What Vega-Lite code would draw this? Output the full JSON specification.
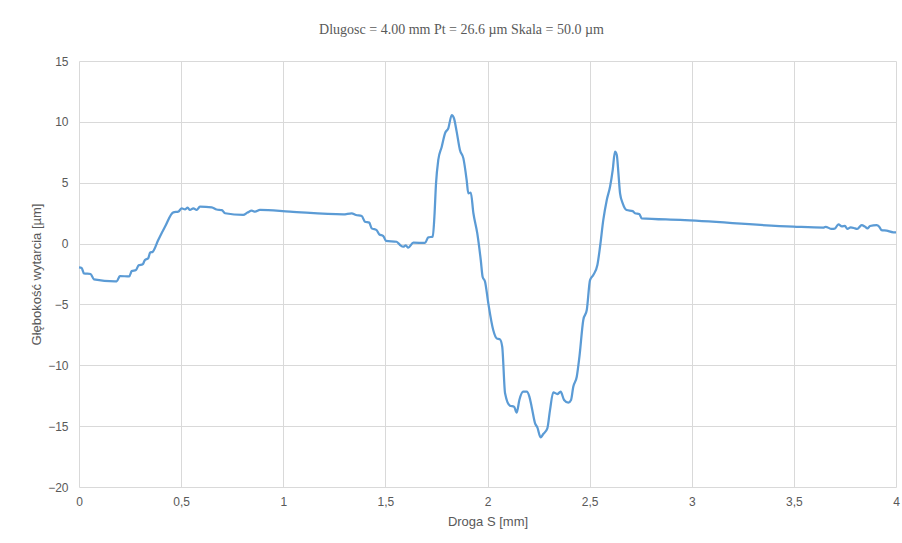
{
  "$schema": "https://vega.github.io/schema/vega-lite/v6.json",
  "width": 817,
  "height": 426,
  "autosize": {"type": "none"},
  "padding": {"left": 79, "top": 61, "right": 6, "bottom": 56},
  "background": "white",
  "title": {
    "text": "Dlugosc = 4.00 mm Pt = 26.6 µm Skala = 50.0 µm",
    "font": "Liberation Serif",
    "fontSize": 14,
    "fontWeight": "normal",
    "color": "#595959",
    "anchor": "middle",
    "dx": -26,
    "offset": 18
  },
  "config": {
    "view": {"stroke": null},
    "axis": {
      "labelFont": "Liberation Sans",
      "titleFont": "Liberation Sans",
      "labelFontSize": 12,
      "titleFontSize": 13,
      "titleFontWeight": "normal",
      "labelColor": "#595959",
      "titleColor": "#595959",
      "gridColor": "#d9d9d9",
      "gridWidth": 1,
      "domain": false,
      "ticks": false
    }
  },
  "data": {"values": [
    {"x": 0.0, "y": -1.95}, {"x": 0.013, "y": -2.0}, {"x": 0.024, "y": -2.45}, {"x": 0.057, "y": -2.5},
    {"x": 0.073, "y": -2.94}, {"x": 0.176, "y": -3.1}, {"x": 0.185, "y": -3.1}, {"x": 0.2, "y": -2.67},
    {"x": 0.246, "y": -2.7}, {"x": 0.258, "y": -2.26}, {"x": 0.279, "y": -2.17}, {"x": 0.292, "y": -1.79},
    {"x": 0.312, "y": -1.7}, {"x": 0.323, "y": -1.35}, {"x": 0.339, "y": -1.2}, {"x": 0.348, "y": -0.75},
    {"x": 0.361, "y": -0.67}, {"x": 0.388, "y": 0.29}, {"x": 0.421, "y": 1.38}, {"x": 0.462, "y": 2.57},
    {"x": 0.486, "y": 2.62}, {"x": 0.503, "y": 2.9}, {"x": 0.519, "y": 2.8}, {"x": 0.532, "y": 2.95},
    {"x": 0.543, "y": 2.76}, {"x": 0.56, "y": 2.9}, {"x": 0.576, "y": 2.76}, {"x": 0.592, "y": 3.03},
    {"x": 0.65, "y": 2.98}, {"x": 0.674, "y": 2.8}, {"x": 0.699, "y": 2.75}, {"x": 0.715, "y": 2.49},
    {"x": 0.804, "y": 2.35}, {"x": 0.825, "y": 2.55}, {"x": 0.846, "y": 2.7}, {"x": 0.862, "y": 2.62},
    {"x": 0.886, "y": 2.76}, {"x": 1.033, "y": 2.62}, {"x": 1.294, "y": 2.4}, {"x": 1.335, "y": 2.49},
    {"x": 1.356, "y": 2.35}, {"x": 1.384, "y": 2.26}, {"x": 1.4, "y": 1.8}, {"x": 1.421, "y": 1.72},
    {"x": 1.433, "y": 1.25}, {"x": 1.457, "y": 1.11}, {"x": 1.47, "y": 0.76}, {"x": 1.49, "y": 0.62},
    {"x": 1.503, "y": 0.23}, {"x": 1.555, "y": 0.15}, {"x": 1.572, "y": -0.12}, {"x": 1.588, "y": -0.26},
    {"x": 1.6, "y": -0.15}, {"x": 1.612, "y": -0.34}, {"x": 1.637, "y": 0.07}, {"x": 1.694, "y": 0.05},
    {"x": 1.71, "y": 0.51}, {"x": 1.732, "y": 0.57}, {"x": 1.74, "y": 2.2}, {"x": 1.748, "y": 4.95},
    {"x": 1.759, "y": 6.87}, {"x": 1.776, "y": 7.96}, {"x": 1.792, "y": 9.06}, {"x": 1.808, "y": 9.47},
    {"x": 1.825, "y": 10.56}, {"x": 1.836, "y": 10.29}, {"x": 1.849, "y": 9.2}, {"x": 1.865, "y": 7.69},
    {"x": 1.882, "y": 7.0}, {"x": 1.898, "y": 5.22}, {"x": 1.906, "y": 4.13}, {"x": 1.918, "y": 4.19},
    {"x": 1.931, "y": 2.49}, {"x": 1.95, "y": 0.84}, {"x": 1.967, "y": -1.35}, {"x": 1.976, "y": -2.72},
    {"x": 1.988, "y": -3.13}, {"x": 2.004, "y": -4.91}, {"x": 2.028, "y": -7.1}, {"x": 2.045, "y": -7.79},
    {"x": 2.061, "y": -7.87}, {"x": 2.072, "y": -8.47}, {"x": 2.086, "y": -12.3}, {"x": 2.11, "y": -13.32},
    {"x": 2.13, "y": -13.4}, {"x": 2.143, "y": -13.89}, {"x": 2.156, "y": -12.85}, {"x": 2.175, "y": -12.17},
    {"x": 2.192, "y": -12.17}, {"x": 2.205, "y": -12.58}, {"x": 2.216, "y": -13.4}, {"x": 2.233, "y": -14.77},
    {"x": 2.244, "y": -15.1}, {"x": 2.26, "y": -15.92}, {"x": 2.273, "y": -15.65}, {"x": 2.293, "y": -15.18},
    {"x": 2.306, "y": -13.68}, {"x": 2.322, "y": -12.22}, {"x": 2.342, "y": -12.36}, {"x": 2.358, "y": -12.17},
    {"x": 2.375, "y": -12.85}, {"x": 2.396, "y": -13.07}, {"x": 2.409, "y": -12.85}, {"x": 2.42, "y": -11.76},
    {"x": 2.437, "y": -10.94}, {"x": 2.45, "y": -9.3}, {"x": 2.469, "y": -6.28}, {"x": 2.486, "y": -5.46},
    {"x": 2.502, "y": -3.0}, {"x": 2.518, "y": -2.58}, {"x": 2.538, "y": -1.76}, {"x": 2.551, "y": -0.26},
    {"x": 2.567, "y": 1.94}, {"x": 2.584, "y": 3.58}, {"x": 2.6, "y": 4.67}, {"x": 2.613, "y": 6.04},
    {"x": 2.624, "y": 7.55}, {"x": 2.633, "y": 7.28}, {"x": 2.641, "y": 5.77}, {"x": 2.649, "y": 4.13},
    {"x": 2.662, "y": 3.31}, {"x": 2.681, "y": 2.76}, {"x": 2.711, "y": 2.67}, {"x": 2.722, "y": 2.49},
    {"x": 2.743, "y": 2.43}, {"x": 2.755, "y": 2.07}, {"x": 2.943, "y": 1.94}, {"x": 3.497, "y": 1.39},
    {"x": 3.644, "y": 1.31}, {"x": 3.655, "y": 1.38}, {"x": 3.685, "y": 1.2}, {"x": 3.7, "y": 1.22},
    {"x": 3.718, "y": 1.58}, {"x": 3.735, "y": 1.42}, {"x": 3.75, "y": 1.45}, {"x": 3.762, "y": 1.2},
    {"x": 3.778, "y": 1.33}, {"x": 3.799, "y": 1.25}, {"x": 3.81, "y": 1.2}, {"x": 3.832, "y": 1.52},
    {"x": 3.848, "y": 1.39}, {"x": 3.86, "y": 1.25}, {"x": 3.873, "y": 1.44}, {"x": 3.905, "y": 1.52},
    {"x": 3.918, "y": 1.39}, {"x": 3.929, "y": 1.11}, {"x": 3.954, "y": 1.06}, {"x": 3.987, "y": 0.93},
    {"x": 4.0, "y": 0.93}
  ]},
  "mark": {"type": "line", "color": "#5b9bd5", "strokeWidth": 2.25, "interpolate": "monotone"},
  "encoding": {
    "x": {
      "field": "x", "type": "quantitative",
      "scale": {"domain": [0, 4], "nice": false, "zero": false},
      "axis": {"title": "Droga S [mm]", "values": [0, 0.5, 1, 1.5, 2, 2.5, 3, 3.5, 4], "format": "~g", "labelExpr": "replace(datum.label, '.', ',')", "labelPadding": 9, "titlePadding": 8, "labelFlush": false}
    },
    "y": {
      "field": "y", "type": "quantitative",
      "scale": {"domain": [-20, 15], "nice": false, "zero": false},
      "axis": {"title": "Głębokość wytarcia [µm]", "values": [-20, -15, -10, -5, 0, 5, 10, 15], "labelPadding": 11, "titlePadding": 4}
    }
  }
}
